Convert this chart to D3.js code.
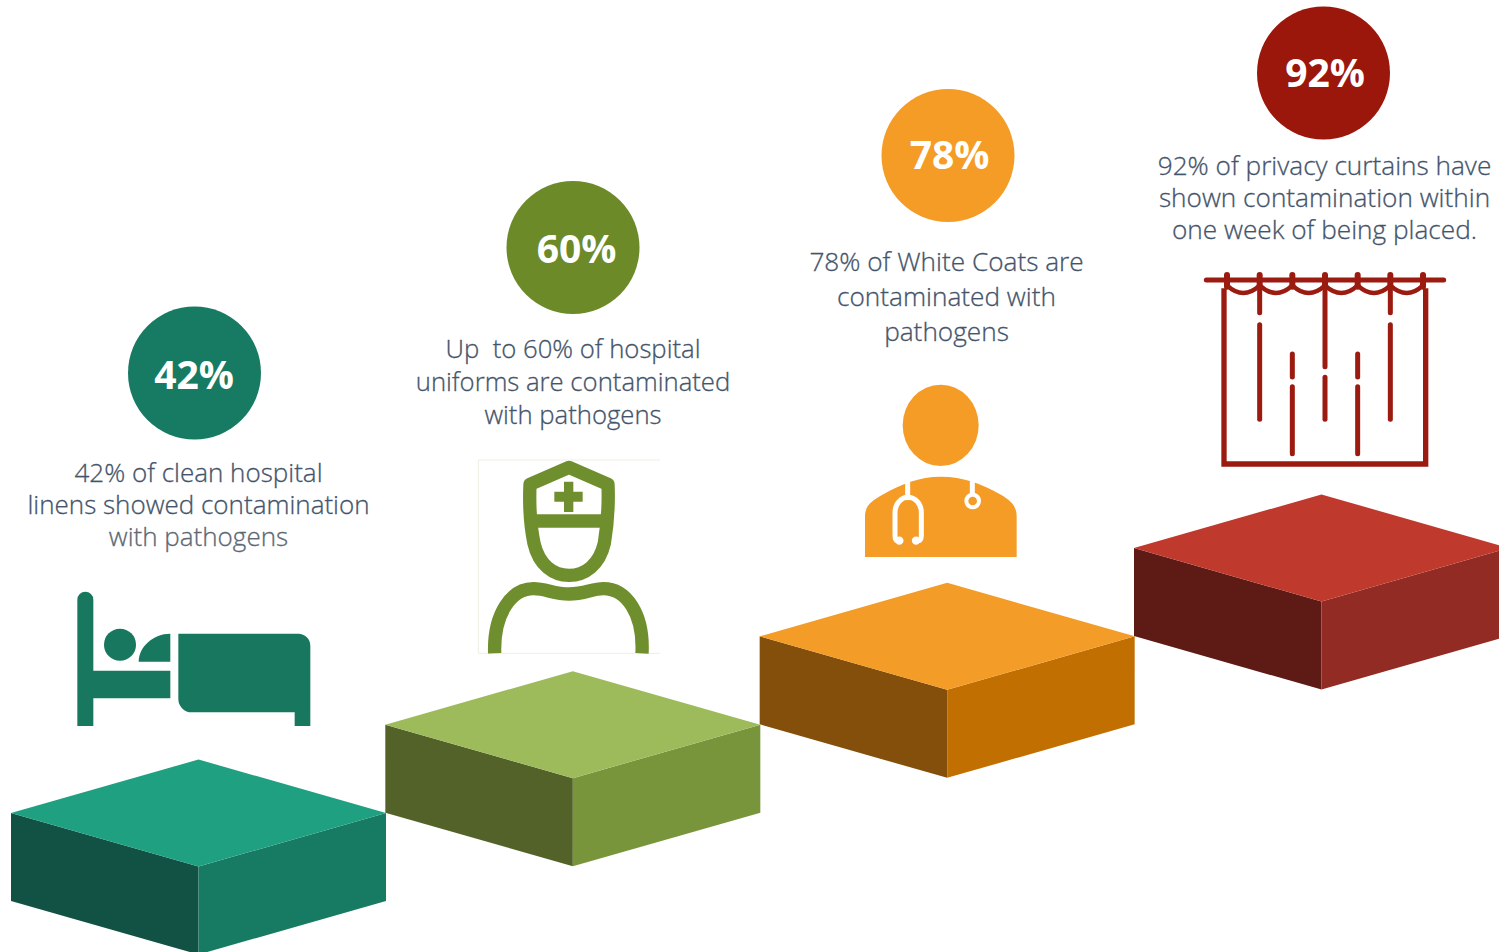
<!DOCTYPE html>
<html lang="en">
<head>
<meta charset="UTF-8">
<title>Contamination of hospital textiles</title>
<script src="https://cdn.jsdelivr.net/npm/d3@7/dist/d3.min.js"></script>
<style>
  body, html { margin: 0; background: #fff; }
  svg { display: block; font-family: "Open Sans", sans-serif; }
</style>
</head>
<body>
<svg width="1499" height="952"></svg>
<script>
const categories = ["linens", "uniforms", "coats", "curtains"];
const percents = [42, 60, 78, 92];
const captions = [
  ["42% of clean hospital", "linens showed contamination", "with pathogens"],
  ["Up  to 60% of hospital", "uniforms are contaminated", "with pathogens"],
  ["78% of White Coats are", "contaminated with", "pathogens"],
  ["92% of privacy curtains have", "shown contamination within", "one week of being placed."]
];
const badgeColors = ["#177a62", "#6d8a29", "#f49c26", "#9b170b"];
const topColors = ["#1fa080", "#9dbb5b", "#f39c27", "#bf392d"];
const leftColors = ["#115245", "#526229", "#844f0a", "#5e1b16"];
const rightColors = ["#177a62", "#78953c", "#c26f02", "#912b24"];

const svg = d3.select("svg");

// the four steps sit on a regular staircase
const xStep = d3.scalePoint().domain(categories).range([11, 1134]);
const yStep = d3.scalePoint().domain(categories).range([813, 548]);
const badgeX = d3.scaleOrdinal().domain(categories).range([194.5, 573, 948, 1323.5]);
const badgeY = d3.scaleOrdinal().domain(categories).range([373, 247.5, 155.5, 73]);
const pctX = d3.scaleOrdinal().domain(categories).range([194, 576.5, 949.5, 1325]);
const pctY = d3.scaleOrdinal().domain(categories).range([389, 262.5, 168.5, 87]);
const textX = d3.scaleOrdinal().domain(categories).range([198.5, 573, 946.5, 1324.5]);
const textY = d3.scaleOrdinal().domain(categories).range([482, 358, 271, 175]);
const textGap = d3.scaleOrdinal().domain(categories).range([32, 33, 35, 32]);
const textSize = d3.scaleOrdinal().domain(categories).range([26, 25.7, 26.2, 26.2]);

const halfW = 187.5, halfH = 53.5, depth = 88;

const steps = svg.selectAll("g.step").data(categories).enter().append("g").attr("class", "step");
const poly = pts => pts.map(p => p.join(",")).join(" ");

steps.append("polygon")
  .attr("fill", (d, i) => leftColors[i])
  .attr("points", d => {
    const x = xStep(d), y = yStep(d);
    return poly([[x, y], [x + halfW, y + halfH], [x + halfW, y + halfH + depth], [x, y + depth]]);
  });
steps.append("polygon")
  .attr("fill", (d, i) => rightColors[i])
  .attr("points", d => {
    const x = xStep(d), y = yStep(d);
    return poly([[x + halfW, y + halfH], [x + 2 * halfW, y], [x + 2 * halfW, y + depth], [x + halfW, y + halfH + depth]]);
  });
steps.append("polygon")
  .attr("fill", (d, i) => topColors[i])
  .attr("points", d => {
    const x = xStep(d), y = yStep(d);
    return poly([[x, y], [x + halfW, y - halfH], [x + 2 * halfW, y], [x + halfW, y + halfH]]);
  });

steps.append("circle")
  .attr("cx", d => badgeX(d))
  .attr("cy", d => badgeY(d))
  .attr("r", 66.5)
  .attr("fill", (d, i) => badgeColors[i]);

steps.append("text")
  .attr("x", d => pctX(d))
  .attr("y", d => pctY(d))
  .attr("text-anchor", "middle")
  .attr("fill", "#fff")
  .attr("font-size", 39)
  .attr("font-weight", 700)
  .text((d, i) => percents[i] + "%");

steps.each(function(d, i) {
  d3.select(this).selectAll("text.cap").data(captions[i]).enter().append("text")
    .attr("class", "cap")
    .attr("x", textX(d))
    .attr("y", (t, j) => textY(d) + j * textGap(d))
    .attr("text-anchor", "middle")
    .attr("font-size", textSize(d))
    .attr("font-weight", 300)
    .attr("fill", (t, j) => (i === 0 && j === 2) ? "#5c6873" : "#44546a")
    .attr("stroke", (t, j) => (i === 0 && j === 2) ? "#5c6873" : "#44546a")
    .attr("stroke-width", 0.3)
    .style("white-space", "pre")
    .text(t => t);
});

// icons, drawn in the 3x coordinates of the crops they were traced from
function icon(x, y) {
  return svg.append("g").attr("transform", `translate(${x},${y}) scale(${1 / 3})`);
}

// bed
const bed = icon(60, 580).attr("fill", "#18775f");
bed.append("path").attr("d", "M52,438V59a24,24 0 0 1 48,0V272H331V355H100V438Z");
bed.append("circle").attr("cx", 180).attr("cy", 194).attr("r", 48);
bed.append("path").attr("d", "M236,245C236,200 280,161 331,161V245Z");
bed.append("path").attr("d", "M355,161H715a36,36 0 0 1 36,36V438H704V397H395a40,40 0 0 1 -40,-40Z");

// nurse
const nurse = icon(470, 450);
nurse.append("path").attr("d", "M25,610V30H570").attr("fill", "none").attr("stroke", "#eef0e0").attr("stroke-width", 3);
nurse.append("path").attr("d", "M25,610H570").attr("fill", "none").attr("stroke", "#eef0e0").attr("stroke-width", 3);
const nurseLines = nurse.append("g").attr("fill", "none").attr("stroke", "#6f8f2e").attr("stroke-width", 40).attr("stroke-linejoin", "round");
nurseLines.append("path").attr("d", "M297,52L180,103C178,150 178,213 192,280C207,345 250,376 297,376C345,376 388,345 403,280C414,213 416,150 414,103Z");
nurseLines.append("path").attr("d", "M180,213H414");
nurseLines.append("path").attr("d", "M74,610C70,490 125,416 190,416C230,416 250,432 297,432C345,432 365,416 400,416C468,416 522,490 516,610");
nurse.append("path").attr("d", "M282,95H310V125H338V155H310V186H282V155H253V125H282Z").attr("fill", "#6f8f2e");

// doctor
const doctor = icon(850, 375);
doctor.append("ellipse").attr("cx", 272).attr("cy", 151).attr("rx", 114).attr("ry", 122).attr("fill", "#f49c26");
doctor.append("path").attr("fill", "#f49c26")
  .attr("d", "M45,546V425C45,395 60,380 100,358C150,328 210,305 272,305C340,305 400,328 450,358C485,378 500,395 500,425V546Z");
const scope = doctor.append("g").attr("fill", "none").attr("stroke", "#fff").attr("stroke-width", 15).attr("stroke-linecap", "round");
scope.append("path").attr("d", "M173,322V368");
scope.append("path").attr("d", "M150,497H142C136,497 135,490 135,480V412C135,385 155,367 173,367C195,367 214,385 214,412V480C214,490 212,497 205,497H196");
scope.append("circle").attr("cx", 148).attr("cy", 497).attr("r", 5);
scope.append("circle").attr("cx", 198).attr("cy", 497).attr("r", 5);
scope.append("path").attr("d", "M367,322V355");
scope.append("circle").attr("cx", 368).attr("cy", 378).attr("r", 19).attr("stroke-width", 12);

// curtain
const curtain = icon(1195, 260).attr("fill", "none").attr("stroke", "#9c1b10").attr("stroke-width", 15).attr("stroke-linecap", "round");
curtain.append("path").attr("d", "M34,60H746");
curtain.append("path").attr("d", "M87,85V612H692V85").attr("stroke-linecap", "butt").attr("stroke-width", 16);
const ringX = [96, 194, 292, 390, 488, 586, 684];
ringX.forEach((x, i) => {
  curtain.append("path").attr("d", `M${x},45V80`).attr("stroke-width", 18);
  if (i < ringX.length - 1) curtain.append("path").attr("d", `M${x},76Q${x + 49},122 ${ringX[i + 1]},76`).attr("stroke-width", 13);
});
[[194, 80, 158], [194, 194, 478], [292, 282, 351], [292, 380, 581], [390, 80, 320], [390, 352, 478],
 [488, 282, 351], [488, 380, 581], [586, 80, 158], [586, 194, 478]].forEach(p => {
  curtain.append("path").attr("d", `M${p[0]},${p[1]}V${p[2]}`);
});
</script>
</body>
</html>
